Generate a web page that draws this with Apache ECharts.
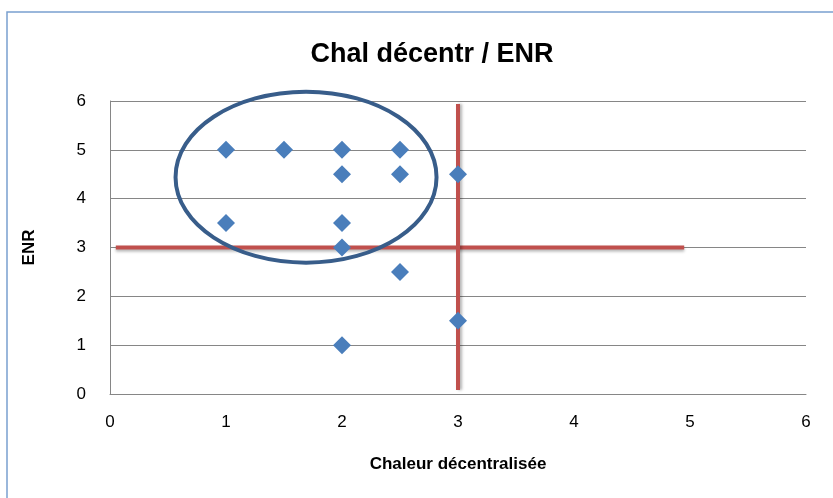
<!DOCTYPE html>
<html>
<head>
<meta charset="utf-8">
<script src="https://cdn.jsdelivr.net/npm/echarts@6/dist/echarts.min.js"></script>
<style>
  html, body { margin: 0; padding: 0; background: #fff; }
  #chart { width: 833px; height: 498px; }
</style>
</head>
<body>
<div id="chart"></div>
<script>
// points (Chaleur décentralisée, ENR)
const chaleur = [1, 1.5, 2, 2.5, 2, 2.5, 3, 1, 2, 2, 2.5, 3, 2];
const enr = [5, 5, 5, 5, 4.5, 4.5, 4.5, 3.5, 3.5, 3, 2.5, 1.5, 1];
const xTicks = [0, 1, 2, 3, 4, 5, 6];
const yTicks = [0, 1, 2, 3, 4, 5, 6];

// red reference lines, data units
const hLine = [[0.05, 3], [4.95, 3]];
const vLine = [[3, 5.94], [3, 0.08]];

// highlight ellipse: center and radii in data units
const ellipse = [[1.69, 4.44, 1.125, 1.75]];

const font = 'Liberation Sans Narrow, Liberation Sans, sans-serif';

const chart = echarts.init(document.getElementById('chart'));

const option = {
  animation: false,
  title: {
    text: 'Chal décentr / ENR',
    left: 427,
    top: 36,
    textAlign: 'center',
    textStyle: { fontFamily: font, fontSize: 27, fontWeight: 'bold', color: '#000' }
  },
  graphic: [{
    type: 'rect',
    shape: { x: 7, y: 12, width: 840, height: 500 },
    style: { fill: 'none', stroke: '#7aa0cf', lineWidth: 1.5 },
    silent: true
  }],
  grid: { left: 110, right: 27, top: 101, bottom: 104 },
  xAxis: {
    type: 'value', min: 0, max: 6, interval: 1,
    name: 'Chaleur décentralisée',
    nameLocation: 'middle', nameGap: 62,
    nameTextStyle: { fontFamily: font, fontSize: 17, fontWeight: 'bold', color: '#000' },
    axisLine: { lineStyle: { color: '#868686' } },
    axisTick: { show: false },
    splitLine: { show: false },
    axisLabel: { margin: 20, fontFamily: font, fontSize: 17, color: '#000',
      formatter: v => xTicks.includes(v) ? String(v) : '' }
  },
  yAxis: {
    type: 'value', min: 0, max: 6, interval: 1,
    name: 'ENR',
    nameLocation: 'middle', nameGap: 72, nameRotate: 90,
    nameTextStyle: { fontFamily: font, fontSize: 17, fontWeight: 'bold', color: '#000' },
    axisLine: { show: true, lineStyle: { color: '#868686' } },
    axisTick: { show: false },
    splitLine: { lineStyle: { color: '#868686', width: 1 } },
    axisLabel: { margin: 24, fontFamily: font, fontSize: 17, color: '#000',
      formatter: v => yTicks.includes(v) ? String(v) : '' }
  },
  series: [
    {
      type: 'line', data: hLine, symbol: 'none', z: 3,
      lineStyle: { color: '#c0504d', width: 4, shadowColor: 'rgba(0,0,0,0.3)', shadowBlur: 3, shadowOffsetY: 2 }
    },
    {
      type: 'line', data: vLine, symbol: 'none', z: 3,
      lineStyle: { color: '#c0504d', width: 4, shadowColor: 'rgba(0,0,0,0.3)', shadowBlur: 3, shadowOffsetX: 2 }
    },
    {
      type: 'scatter', z: 4,
      data: chaleur.map((x, i) => [x, enr[i]]),
      symbol: 'diamond', symbolSize: 18,
      itemStyle: { color: '#4a7ebb', opacity: 1 }
    },
    {
      type: 'custom', z: 5, silent: true,
      data: ellipse,
      renderItem: (params, api) => {
        const c = api.coord([api.value(0), api.value(1)]);
        const e = api.coord([api.value(0) + api.value(2), api.value(1) + api.value(3)]);
        const rx = e[0] - c[0];
        const ry = c[1] - e[1];
        return {
          type: 'ellipse',
          shape: { cx: c[0], cy: c[1], rx: rx, ry: ry },
          style: { fill: 'none', stroke: '#385d8a', lineWidth: 4 }
        };
      }
    }
  ]
};

chart.setOption(option);
</script>
</body>
</html>
